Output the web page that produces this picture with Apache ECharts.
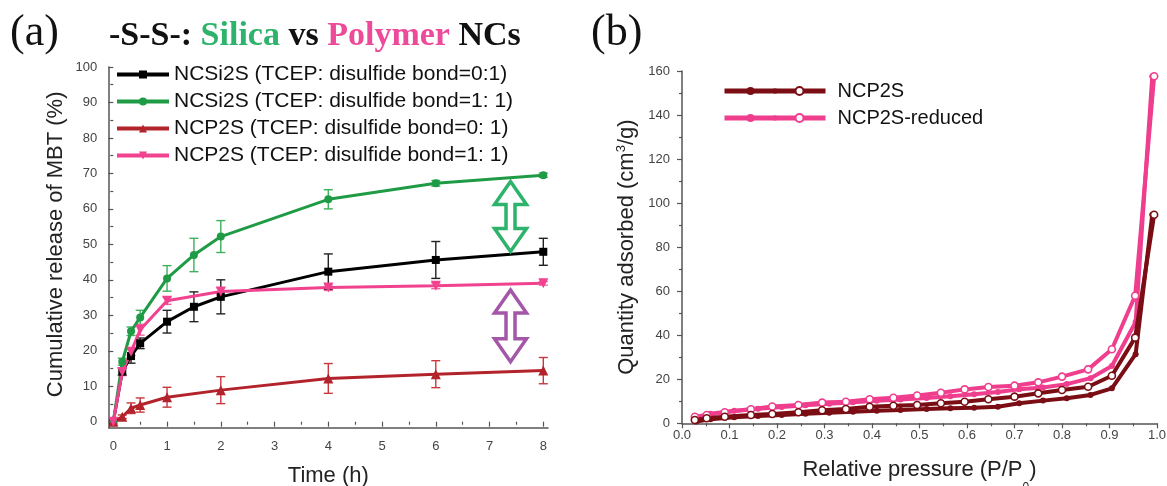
<!DOCTYPE html>
<html><head><meta charset="utf-8">
<script src="https://cdn.jsdelivr.net/npm/echarts@6/dist/echarts.min.js"></script>
<style>html,body{margin:0;padding:0;background:#fff}#c{width:1167px;height:486px}</style>
</head><body><div id="c"></div><script>
// ---------- Panel (a): cumulative release ----------
const tBlack = [0, 0.167, 0.33, 0.5, 1, 1.5, 2, 4, 6, 8];
const vBlack = [0, 14.1, 18.5, 22.1, 28.2, 32.4, 35.2, 42.3, 45.6, 47.9];
const eBlack = [0, 1, 2, 1.5, 3.2, 4.2, 4.8, 5, 5.2, 3.8];
const tGreen = [0, 0.167, 0.33, 0.5, 1, 1.5, 2, 4, 6, 8];
const vGreen = [0, 16.9, 25.5, 29.4, 40.4, 47, 52.2, 62.7, 67.2, 69.5];
const eGreen = [0, 1, 1.2, 2, 3.6, 4.7, 4.5, 2.7, 0.8, 0.6];
const tRed = [0, 0.167, 0.33, 0.5, 1, 2, 4, 6, 8];
const vRed = [0, 1.4, 3.8, 4.7, 6.9, 8.9, 12.2, 13.4, 14.4];
const eRed = [0, 0.5, 1.5, 2, 2.8, 3.8, 4.2, 3.8, 3.7];
const tPink = [0, 0.167, 0.33, 0.5, 1, 2, 4, 6, 8];
const vPink = [0, 14, 19.7, 25.9, 34.1, 36.7, 37.8, 38.3, 39.0];
const ePink = [0, 1, 1, 1.5, 1, 1, 0.8, 0.8, 0.5];
const namesA = [
  'NCSi2S (TCEP: disulfide bond=0:1)',
  'NCSi2S (TCEP: disulfide bond=1: 1)',
  'NCP2S (TCEP: disulfide bond=0: 1)',
  'NCP2S (TCEP: disulfide bond=1: 1)'
];
const ticksAx = [0, 1, 2, 3, 4, 5, 6, 7, 8];
const ticksAy = [0, 10, 20, 30, 40, 50, 60, 70, 80, 90, 100];

// ---------- Panel (b): N2 isotherms ----------
const adsP = [0.03, 0.06, 0.11, 0.16, 0.21, 0.26, 0.31, 0.36, 0.41, 0.46, 0.515, 0.565, 0.615, 0.665, 0.71, 0.76, 0.81, 0.86, 0.905, 0.955, 0.99];
const ncpAds = [0.8, 1.8, 2.7, 3.3, 3.8, 4.3, 4.8, 5.2, 5.7, 6.0, 6.5, 6.8, 7.1, 7.5, 9.1, 10.3, 11.4, 12.9, 15.9, 31.4, 94.7];
const redAds = [2.8, 4.3, 5.7, 6.6, 7.4, 8.2, 8.9, 9.6, 10.2, 10.8, 11.5, 12.3, 13.2, 14.2, 15.5, 16.3, 17.8, 20.5, 26, 46, 157.6];
const desP = [0.994, 0.954, 0.905, 0.855, 0.80, 0.75, 0.70, 0.645, 0.595, 0.545, 0.495, 0.445, 0.395, 0.345, 0.295, 0.245, 0.19, 0.145, 0.09, 0.052, 0.027];
const ncpDes = [94.7, 38.9, 21.6, 16.6, 15.1, 13.6, 12.1, 10.9, 9.8, 9.1, 8.3, 8.0, 7.5, 6.5, 5.9, 5.0, 4.2, 3.8, 3.0, 2.3, 1.5];
const redDes = [157.6, 57.9, 33.6, 24.5, 21.2, 18.6, 17.1, 16.5, 15.4, 13.9, 12.6, 11.6, 10.9, 9.8, 9.4, 8.3, 7.6, 6.4, 5.0, 3.8, 3.0];
const namesB = ['NCP2S', 'NCP2S-reduced'];

const SANS = "'Liberation Sans', Arial, sans-serif";
const SERIF = "'Liberation Serif', 'Times New Roman', serif";
const C_BLACK = '#000000', C_GREEN = '#1f9a45', C_RED = '#b3232b', C_PINK = '#f0428f';
const C_MAROON = '#7a0e14', C_PINKB = '#ef3e8e';
const AX = '#555';

function zip(a, b) { return a.map((x, i) => [x, b[i]]); }
function errData(t, v, e) { return t.map((x, i) => [x, v[i] - e[i], v[i] + e[i]]).filter((d, i) => e[i] > 0); }
function errSeries(t, v, e, color) {
  return {
    type: 'custom', xAxisIndex: 0, yAxisIndex: 0, z: 1, silent: true,
    data: errData(t, v, e),
    renderItem: function (params, api) {
      const x = api.value(0), lo = api.value(1), hi = api.value(2);
      const p1 = api.coord([x, hi]), p2 = api.coord([x, lo]);
      const w = 4.5;
      const st = { stroke: color, lineWidth: 1.4 };
      return { type: 'group', children: [
        { type: 'line', shape: { x1: p1[0], y1: p1[1], x2: p2[0], y2: p2[1] }, style: st },
        { type: 'line', shape: { x1: p1[0] - w, y1: p1[1], x2: p1[0] + w, y2: p1[1] }, style: st },
        { type: 'line', shape: { x1: p2[0] - w, y1: p2[1], x2: p2[0] + w, y2: p2[1] }, style: st }
      ] };
    }
  };
}
function lineA(name, t, v, color, symbol, size, rot) {
  return {
    name: name, type: 'line', xAxisIndex: 0, yAxisIndex: 0, z: 3,
    data: zip(t, v), symbol: symbol, symbolSize: size, symbolRotate: rot || 0,
    showSymbol: true, animation: false,
    lineStyle: { color: color, width: 3 },
    itemStyle: { color: color }
  };
}
function lineB(name, p, q, color, open) {
  return {
    name: name, type: 'line', xAxisIndex: 2, yAxisIndex: 2, z: open ? 4 : 3,
    data: zip(p, q), symbol: 'circle', symbolSize: open ? 7 : 6, animation: false,
    lineStyle: { color: color, width: 4 },
    itemStyle: open ? { color: '#ffffff', borderColor: color, borderWidth: 1.6 } : { color: color }
  };
}

const tickLabel = { fontFamily: SANS, fontSize: 13, color: '#444' };
const nameStyle = { fontFamily: SANS, fontSize: 22, color: '#222' };

const option = {
  backgroundColor: '#ffffff',
  animation: false,
  title: [
    { text: '(a)', left: 10, top: 11, padding: 0, textStyle: { fontFamily: SERIF, fontSize: 44, fontWeight: 'normal', color: '#111' } },
    { text: '(b)', left: 591, top: 11, padding: 0, textStyle: { fontFamily: SERIF, fontSize: 44, fontWeight: 'normal', color: '#111' } },
    { text: '{k|-S-S-: }{g|Silica}{k| vs }{p|Polymer}{k| NCs}', left: 109, top: 19, padding: 0,
      textStyle: { rich: {
        k: { fontFamily: SERIF, fontSize: 34, fontWeight: 'bold', color: '#111' },
        g: { fontFamily: SERIF, fontSize: 34, fontWeight: 'bold', color: '#2db36b' },
        p: { fontFamily: SERIF, fontSize: 34, fontWeight: 'bold', color: '#ee4a9a' }
      } } }
  ],
  legend: [
    { data: namesA, orient: 'vertical', left: 115, top: 64, padding: 0, itemWidth: 52, itemHeight: 10, itemGap: 6,
      lineStyle: { width: 4 },
      textStyle: { fontFamily: SANS, fontSize: 21, color: '#111' } },
    { data: namesB, orient: 'vertical', left: 722, top: 81, padding: 0, itemWidth: 52, itemHeight: 10, itemGap: 7,
      lineStyle: { width: 5 },
      formatter: function () { return ' '; }, textStyle: { fontFamily: SANS, fontSize: 20, color: '#111' } },
    { data: namesB.map(n => n + ' desorption'), orient: 'vertical', left: 771, top: 81, padding: 0, itemWidth: 52, itemHeight: 10, itemGap: 7,
      lineStyle: { width: 5 },
      formatter: function (n) { return '{t|' + n.replace(' desorption', '') + '}'; },
      textStyle: { fontFamily: SANS, fontSize: 20, color: '#111', rich: { t: { fontFamily: SANS, fontSize: 20, color: '#111', padding: [0, 0, 0, 7] } } } }
  ],
  grid: [
    { left: 113.3, top: 67, width: 430, height: 354.7, outerBoundsMode: 'none', containLabel: false },
    { left: 109, top: 67, width: 439, height: 361, outerBoundsMode: 'none', containLabel: false },
    { left: 682, top: 71, width: 475, height: 352.3, outerBoundsMode: 'none', containLabel: false }
  ],
  xAxis: [
    { type: 'value', gridIndex: 0, min: ticksAx[0], max: ticksAx[ticksAx.length - 1], interval: 1, offset: 6,
      name: 'Time (h)', nameLocation: 'middle', nameGap: 37, nameTextStyle: nameStyle,
      axisLine: { show: false }, splitLine: { show: false },
      axisTick: { show: true, length: 5, lineStyle: { color: AX, width: 1.2 } },
      minorTick: { show: true, splitNumber: 2, length: 3, lineStyle: { color: AX, width: 1.2 } },
      axisLabel: Object.assign({ margin: 12 }, tickLabel) },
    { type: 'value', gridIndex: 1, min: 0, max: 1, axisLine: { show: true, lineStyle: { color: AX, width: 1.5 } },
      axisTick: { show: false }, axisLabel: { show: false }, splitLine: { show: false } },
    { type: 'value', gridIndex: 2, min: 0, max: 1, interval: 0.1,
      name: 'Relative pressure (P/P{s|0})', nameLocation: 'middle', nameGap: 36,
      nameTextStyle: Object.assign({ rich: { s: { fontFamily: SANS, fontSize: 12, color: '#222', verticalAlign: 'bottom', padding: [0, 0, -12, 0] } } }, nameStyle),
      axisLine: { show: true, lineStyle: { color: AX, width: 1.5 } }, splitLine: { show: false },
      axisTick: { show: true, length: 5, lineStyle: { color: AX, width: 1.2 } },
      minorTick: { show: true, splitNumber: 2, length: 3, lineStyle: { color: AX, width: 1.2 } },
      axisLabel: Object.assign({ margin: 6, formatter: v => v.toFixed(1) }, tickLabel) }
  ],
  yAxis: [
    { type: 'value', gridIndex: 0, min: ticksAy[0], max: ticksAy[ticksAy.length - 1], interval: 10, offset: 4,
      name: 'Cumulative release of MBT (%)', nameLocation: 'middle', nameGap: 42, nameTextStyle: nameStyle,
      axisLine: { show: false }, splitLine: { show: false },
      axisTick: { show: true, length: 5, lineStyle: { color: AX, width: 1.2 } },
      minorTick: { show: true, splitNumber: 2, length: 3, lineStyle: { color: AX, width: 1.2 } },
      axisLabel: Object.assign({ margin: 12 }, tickLabel) },
    { type: 'value', gridIndex: 1, min: 0, max: 1, axisLine: { show: true, lineStyle: { color: AX, width: 1.5 } },
      axisTick: { show: false }, axisLabel: { show: false }, splitLine: { show: false } },
    { type: 'value', gridIndex: 2, min: 0, max: 160, interval: 20,
      name: 'Quantity adsorbed (cm{u|3}/g)', nameLocation: 'middle', nameGap: 44,
      nameTextStyle: Object.assign({ rich: { u: { fontFamily: SANS, fontSize: 13, color: '#222', verticalAlign: 'top', padding: [0, 0, 10, 0] } } }, nameStyle),
      axisLine: { show: true, lineStyle: { color: AX, width: 1.5 } }, splitLine: { show: false },
      axisTick: { show: true, length: 5, lineStyle: { color: AX, width: 1.2 } },
      minorTick: { show: true, splitNumber: 2, length: 3, lineStyle: { color: AX, width: 1.2 } },
      axisLabel: Object.assign({ margin: 12 }, tickLabel) }
  ],
  series: [
    errSeries(tBlack, vBlack, eBlack, '#222'),
    errSeries(tGreen, vGreen, eGreen, '#3cb05a'),
    errSeries(tRed, vRed, eRed, '#c8383f'),
    errSeries(tPink, vPink, ePink, '#f2649f'),
    lineA(namesA[0], tBlack, vBlack, C_BLACK, 'rect', 8),
    lineA(namesA[1], tGreen, vGreen, C_GREEN, 'circle', 8),
    lineA(namesA[2], tRed, vRed, C_RED, 'triangle', 10),
    lineA(namesA[3], tPink, vPink, C_PINK, 'triangle', 10, 180),
    lineB(namesB[1], adsP, redAds, C_PINKB, false),
    lineB(namesB[1] + ' desorption', desP, redDes, C_PINKB, true),
    lineB(namesB[0], adsP, ncpAds, C_MAROON, false),
    lineB(namesB[0] + ' desorption', desP, ncpDes, C_MAROON, true)
  ]
};

const chart = echarts.init(document.getElementById('c'), null, { renderer: 'canvas' });
chart.setOption(option);

// hollow double-headed arrows (annotations) placed in data coordinates of panel (a)
function arrow(xv, yTop, yBot, color) {
  const a = chart.convertToPixel({ gridIndex: 0 }, [xv, yTop]);
  const b = chart.convertToPixel({ gridIndex: 0 }, [xv, yBot]);
  const cx = a[0], yt = a[1], yb = b[1];
  const hw = 16, sw = 4.5, hl = 23;
  const pts = [[cx, yt], [cx + hw, yt + hl], [cx + sw, yt + hl], [cx + sw, yb - hl], [cx + hw, yb - hl], [cx, yb],
    [cx - hw, yb - hl], [cx - sw, yb - hl], [cx - sw, yt + hl], [cx - hw, yt + hl]];
  return { type: 'polygon', shape: { points: pts }, style: { fill: '#ffffff', stroke: color, lineWidth: 3.5, lineJoin: 'miter' }, z: 10, silent: true };
}
chart.setOption({ graphic: [arrow(7.39, 67.7, 48, '#2db36b'), arrow(7.39, 37.1, 16.9, '#a456a8')] });
</script></body></html>
